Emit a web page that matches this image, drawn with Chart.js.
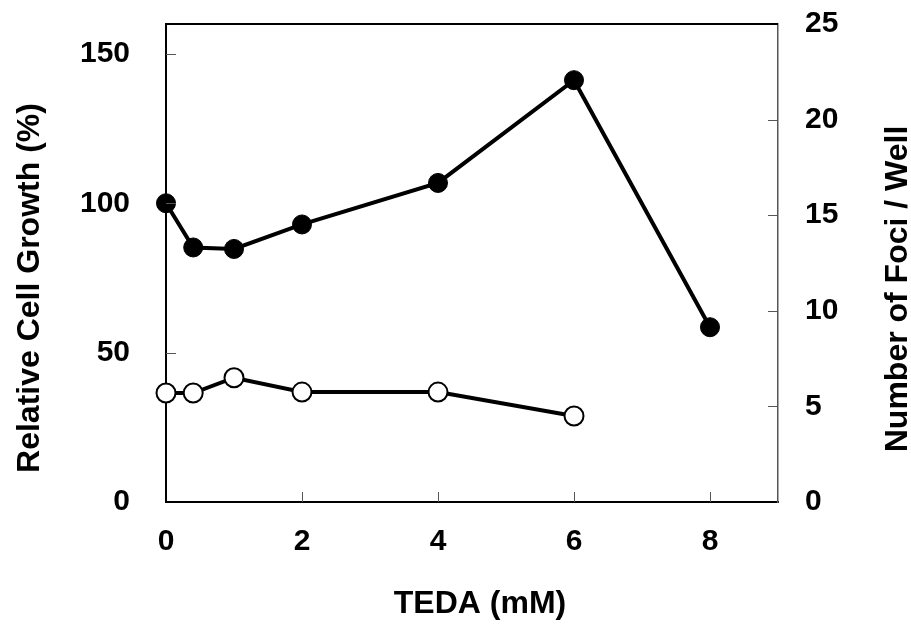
<!DOCTYPE html>
<html>
<head>
<meta charset="utf-8">
<script src="https://cdn.jsdelivr.net/npm/chart.js@4"></script>
<style>
  body { margin: 0; background: #fff; }
  #wrap { width: 911px; height: 630px; position: relative; }
</style>
</head>
<body>
<div id="wrap"><canvas id="tedaChart"></canvas></div>
<script>
// Data
const DOSE_GROWTH = [0, 0.4, 1, 2, 4, 6, 8];            // TEDA (mM)
const CELL_GROWTH = [100, 85.2, 84.7, 92.9, 106.8, 141.2, 58.5]; // %
const DOSE_FOCI = [0, 0.4, 1, 2, 4, 6];                 // TEDA (mM)
const FOCI_COUNT = [5.7, 5.7, 6.5, 5.75, 5.75, 4.5];    // foci / well

const X_TICKS = [0, 2, 4, 6, 8];
const LEFT_TICKS = [0, 50, 100, 150];
const RIGHT_TICKS = [0, 5, 10, 15, 20, 25];

const X_TITLE = "TEDA (mM)";
const LEFT_TITLE = "Relative Cell Growth (%)";
const RIGHT_TITLE = "Number of Foci / Well";

const FONT = "'Liberation Sans', Arial, sans-serif";
const TICK_SIZE = 30;
const TITLE_SIZE = 32;

// Inward tick marks, top frame line and the axis titles
const frameTicks = {
  id: "frameTicks",
  afterDraw(chart) {
    const { ctx, chartArea: a, scales } = chart;
    ctx.save();
    ctx.lineWidth = 1;
    ctx.strokeStyle = "#555";
    scales.x.ticks.forEach((t) => {
      const px = Math.round(scales.x.getPixelForValue(t.value)) + 0.5;
      if (px <= a.left + 2) return;
      ctx.beginPath();
      ctx.moveTo(px, a.bottom);
      ctx.lineTo(px, a.bottom - 10);
      ctx.stroke();
    });
    scales.y.ticks.forEach((t) => {
      const py = Math.round(scales.y.getPixelForValue(t.value)) + 0.5;
      if (py >= a.bottom - 2) return;
      ctx.beginPath();
      ctx.moveTo(a.left, py);
      ctx.lineTo(a.left + 10, py);
      ctx.stroke();
    });
    scales.y2.ticks.forEach((t) => {
      const py = Math.round(scales.y2.getPixelForValue(t.value)) + 0.5;
      if (py >= a.bottom - 2) return;
      ctx.beginPath();
      ctx.moveTo(a.right, py);
      ctx.lineTo(a.right - 10, py);
      ctx.stroke();
    });
    // top border
    ctx.strokeStyle = "#000";
    ctx.lineWidth = 2;
    ctx.beginPath();
    ctx.moveTo(a.left, a.top);
    ctx.lineTo(a.right, a.top);
    ctx.stroke();

    // titles
    ctx.fillStyle = "#000";
    ctx.font = "bold " + TITLE_SIZE + "px " + FONT;
    ctx.textAlign = "center";
    ctx.textBaseline = "alphabetic";
    ctx.fillText(X_TITLE, 480, 613);

    ctx.save();
    ctx.translate(39, 288);
    ctx.rotate(-Math.PI / 2);
    ctx.fillText(LEFT_TITLE, 0, 0);
    ctx.restore();

    ctx.save();
    ctx.translate(907, 289);
    ctx.rotate(-Math.PI / 2);
    ctx.fillText(RIGHT_TITLE, 0, 0);
    ctx.restore();

    ctx.restore();
  },
};

function fixedTicks(values) {
  return (scale) => {
    scale.ticks = values.map((v) => ({ value: v }));
  };
}

function noOverflow(size, horizontal) {
  return (s) => {
    if (horizontal) s.height = size; else s.width = size;
    s.paddingTop = 0;
    s.paddingBottom = 0;
    s.paddingLeft = 0;
    s.paddingRight = 0;
  };
}

const tickFont = { family: FONT, size: TICK_SIZE, weight: "bold" };

const ctx = document.getElementById("tedaChart").getContext("2d");
new Chart(ctx, {
  type: "line",
  data: {
    datasets: [
      {
        label: "Relative Cell Growth",
        data: DOSE_GROWTH.map((x, i) => ({ x: x, y: CELL_GROWTH[i] })),
        yAxisID: "y",
        borderColor: "#000",
        borderWidth: 4,
        pointRadius: 9.5,
        pointBackgroundColor: "#000",
        pointBorderColor: "#000",
        pointBorderWidth: 1,
        tension: 0,
        clip: false,
      },
      {
        label: "Number of Foci",
        data: DOSE_FOCI.map((x, i) => ({ x: x, y: FOCI_COUNT[i] })),
        yAxisID: "y2",
        borderColor: "#000",
        borderWidth: 4,
        pointRadius: 9.5,
        pointBackgroundColor: "#fff",
        pointBorderColor: "#000",
        pointBorderWidth: 2,
        tension: 0,
        clip: false,
      },
    ],
  },
  options: {
    responsive: true,
    maintainAspectRatio: false,
    animation: false,
    layout: { padding: { top: 24, right: 0, left: 0, bottom: 0 } },
    plugins: {
      legend: { display: false },
      tooltip: { enabled: false },
    },
    scales: {
      x: {
        type: "linear",
        min: 0,
        max: 9,
        afterBuildTicks: fixedTicks(X_TICKS),
        afterFit: noOverflow(128, true),
        grid: { display: false },
        border: { color: "#000", width: 2 },
        ticks: { color: "#000", padding: 14, font: tickFont },
      },
      y: {
        type: "linear",
        position: "left",
        min: 0,
        max: 160,
        afterBuildTicks: fixedTicks(LEFT_TICKS),
        afterFit: noOverflow(166, false),
        grid: { display: false },
        border: { color: "#000", width: 2 },
        ticks: { color: "#000", padding: 28, font: tickFont },
      },
      y2: {
        type: "linear",
        position: "right",
        min: 0,
        max: 25,
        afterBuildTicks: fixedTicks(RIGHT_TICKS),
        afterFit: noOverflow(133, false),
        grid: { display: false },
        border: { color: "#555", width: 1.5 },
        ticks: { color: "#000", padding: 19, font: tickFont },
      },
    },
  },
  plugins: [frameTicks],
});
</script>
</body>
</html>
